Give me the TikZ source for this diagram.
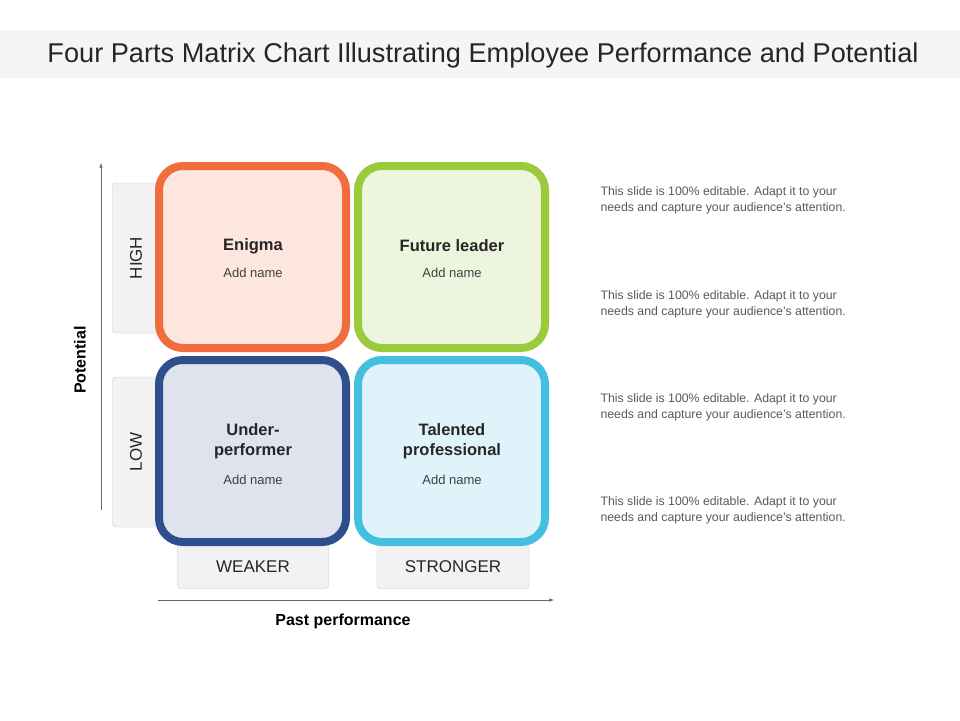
\documentclass[tikz,border=0pt]{standalone}
\usepackage{fontspec}
\setmainfont{Liberation Sans}
\usetikzlibrary{positioning}
\definecolor{orangeedge}{HTML}{F26D3D}
\definecolor{orangefill}{HTML}{FDE6DE}
\definecolor{greenedge}{HTML}{9BCB3C}
\definecolor{greenfill}{HTML}{EEF5DF}
\definecolor{blueedge}{HTML}{2E4F8C}
\definecolor{bluefill}{HTML}{DEE3EE}
\definecolor{cyanedge}{HTML}{45BFE0}
\definecolor{cyanfill}{HTML}{DFF3FA}
\definecolor{tabgray}{HTML}{F2F2F2}
\definecolor{textgray}{HTML}{595959}
\begin{document}
\begin{tikzpicture}[x=1pt,y=-1pt,
  quad/.style = {rounded corners=24pt, line width=8pt, minimum width=187pt, minimum height=182pt},
  tab/.style  = {draw=gray!45, fill=tabgray, rounded corners=3pt, font=\fontsize{17}{20}\selectfont, text=black!85},
  head/.style = {font=\bfseries\fontsize{16.5}{20}\selectfont, align=center, text=black!85},
  sub/.style  = {font=\fontsize{13}{15}\selectfont, text=black!75},
  note/.style = {font=\fontsize{12.3}{16}\selectfont, text=textgray, align=left, anchor=north west},
  axis/.style = {-latex, gray!80!black, line width=0.6pt}]
\useasboundingbox (0,0) rectangle (960,720);
\fill[gray!8] (0,30) rectangle (960,78);
\node[font=\fontsize{24}{28}\selectfont, text=black!85] (title) at (483,55) {\resizebox{871pt}{!}{Four Parts Matrix Chart Illustrating Employee Performance and Potential}};
% side tabs
\node[tab, minimum width=47pt, minimum height=150pt] (high) at (136,258) {};
\node[rotate=90, font=\fontsize{17}{20}\selectfont, text=black!85] at (136,258) {HIGH};
\node[tab, minimum width=47pt, minimum height=150pt] (low) at (136,452) {};
\node[rotate=90, font=\fontsize{17}{20}\selectfont, text=black!85] at (136,452) {LOW};
\node[tab, minimum width=151pt, minimum height=47pt] (weak) at (253,565) {};
\node[font=\fontsize{17}{20}\selectfont, text=black!85] at (253,567) {WEAKER};
\node[tab, minimum width=152pt, minimum height=47pt] (strong) at (453,565) {};
\node[font=\fontsize{17}{20}\selectfont, text=black!85] at (453,567) {STRONGER};
% quadrants
\node[quad, draw=orangeedge, fill=orangefill] (enigma) at (252.5,257) {};
\node[quad, draw=greenedge, fill=greenfill] (leader) at (451.5,257) {};
\node[quad, draw=blueedge, fill=bluefill] (under) at (252.5,451) {};
\node[quad, draw=cyanedge, fill=cyanfill] (talent) at (451.5,451) {};
\node[head] at (253,246) {Enigma};
\node[sub]  at (253,273) {Add name};
\node[head] at (452,246) {Future leader};
\node[sub]  at (452,273) {Add name};
\node[head] at (253,441) {Under-\\performer};
\node[sub]  at (253,480) {Add name};
\node[head] at (452,441) {Talented\\professional};
\node[sub]  at (452,480) {Add name};
% axes
\coordinate (ybot) at (101,510);
\coordinate (ytop) at (101,163);
\coordinate (xl) at (158,600);
\coordinate (xr) at (554,600);
\draw[axis] (ybot) -- (ytop);
\draw[axis] (xl) -- (xr);
\node[rotate=90, font=\bfseries\fontsize{16}{19}\selectfont] (pot) at (80,360) {Potential};
\node[font=\bfseries\fontsize{16}{19}\selectfont] (past) at (343,621) {Past performance};
% notes
\foreach \y in {183,287,390,493}
  { \node[note] at (597,\y) {This slide is 100\% editable. Adapt it to your\\needs and capture your audience's attention.}; }
\end{tikzpicture}
\end{document}
